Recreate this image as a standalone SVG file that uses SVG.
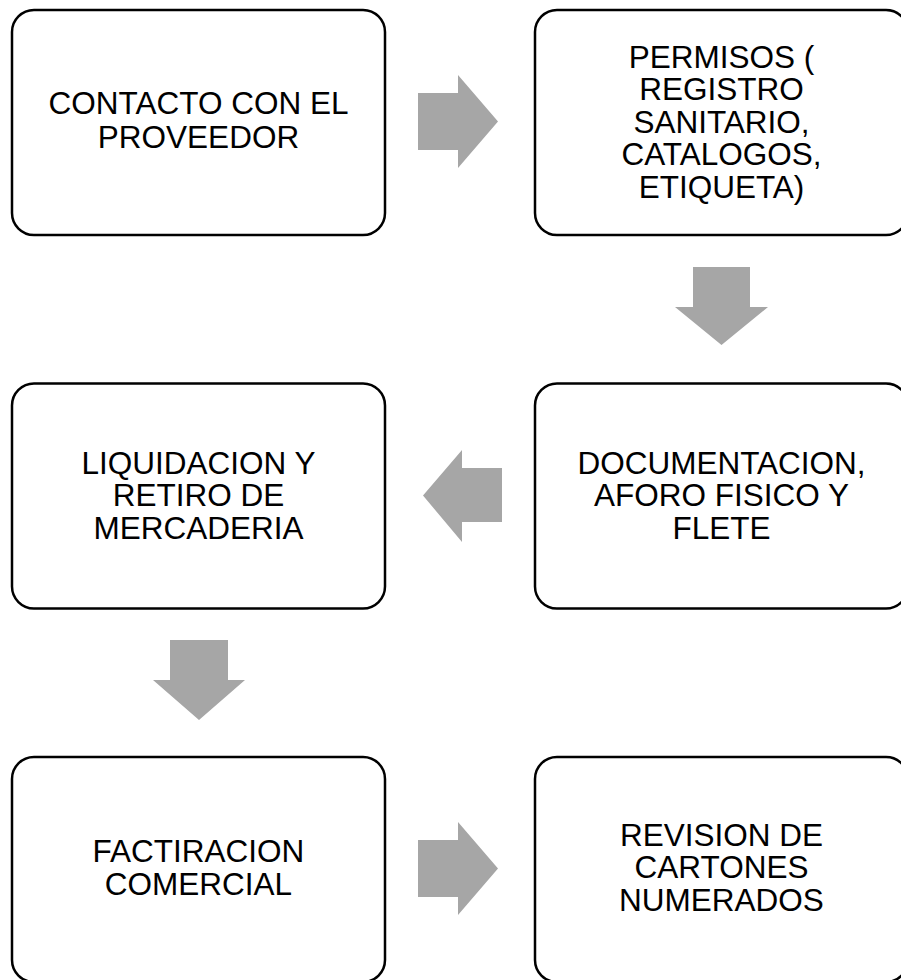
<svg xmlns="http://www.w3.org/2000/svg" width="901" height="980" viewBox="0 0 901 980">
<style>
.box{fill:#ffffff;stroke:#000000;stroke-width:2.5}
.arr{fill:#a6a6a6;stroke:none}
text{font-family:"Liberation Sans",Arial,sans-serif;font-size:31.5px;fill:#000000;text-anchor:middle}
</style>
<rect width="901" height="980" fill="#ffffff"/>
<g id="connectors">
<polygon class="arr" points="418,93 458,93 458,75 498,121.5 458,168 458,150 418,150"/>
<polygon class="arr" points="693,267 750,267 750,307 768,307 721.5,345 675,307 693,307"/>
<polygon class="arr" points="502,468 462,468 462,450 423,495.5 462,542 462,522 502,522"/>
<polygon class="arr" points="170,640 228,640 228,680 245,680 199,720 153,680 170,680"/>
<polygon class="arr" points="418,840 458,840 458,822 498,868.5 458,915 458,897 418,897"/>
</g>
<g id="node1">
<rect class="box" x="12" y="10" width="373" height="225" rx="22" ry="22"/>
<text x="198.5" y="114">CONTACTO CON EL</text>
<text x="198.5" y="147.5">PROVEEDOR</text>
</g>
<g id="node2">
<rect class="box" x="535" y="10" width="373" height="225" rx="22" ry="22"/>
<text x="721.5" y="67.5">PERMISOS (</text>
<text x="721.5" y="100">REGISTRO</text>
<text x="721.5" y="132.5">SANITARIO,</text>
<text x="721.5" y="165">CATALOGOS,</text>
<text x="721.5" y="197.5">ETIQUETA)</text>
</g>
<g id="node3">
<rect class="box" x="535" y="383.5" width="373" height="225" rx="22" ry="22"/>
<text x="721.5" y="473.5">DOCUMENTACION,</text>
<text x="721.5" y="506">AFORO FISICO Y</text>
<text x="721.5" y="538.5">FLETE</text>
</g>
<g id="node4">
<rect class="box" x="12" y="383.5" width="373" height="225" rx="22" ry="22"/>
<text x="198.5" y="473.5">LIQUIDACION Y</text>
<text x="198.5" y="506">RETIRO DE</text>
<text x="198.5" y="538.5">MERCADERIA</text>
</g>
<g id="node5">
<rect class="box" x="12" y="757" width="373" height="225" rx="22" ry="22"/>
<text x="198.5" y="862">FACTIRACION</text>
<text x="198.5" y="895">COMERCIAL</text>
</g>
<g id="node6">
<rect class="box" x="535" y="757" width="373" height="225" rx="22" ry="22"/>
<text x="721.5" y="845.5">REVISION DE</text>
<text x="721.5" y="878">CARTONES</text>
<text x="721.5" y="910.5">NUMERADOS</text>
</g>
</svg>
